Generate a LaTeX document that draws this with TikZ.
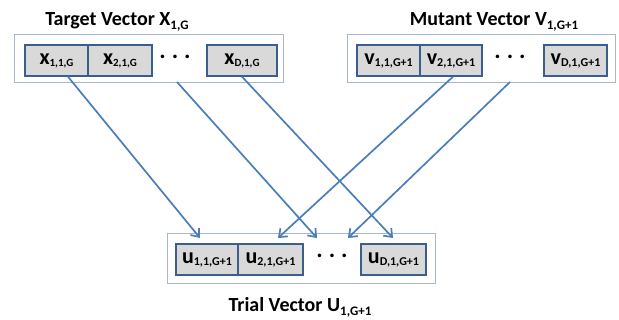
\documentclass[tikz,border=0pt]{standalone}
\usepackage{fontspec}
\setmainfont{Carlito}
\usetikzlibrary{arrows.meta}
\definecolor{arrowblue}{HTML}{4A7EBB}
\definecolor{cellborder}{HTML}{3B5E8C}
\definecolor{cellfill}{HTML}{D9D9D9}
\definecolor{frameline}{HTML}{A9B7CD}
\tikzset{
  cell/.style={draw=cellborder, line width=1.4pt, fill=cellfill, minimum height=31pt,
    inner sep=0pt, font=\bfseries\fontsize{22}{24}\selectfont},
  frame/.style={draw=frameline, line width=0.8pt},
  dots/.style={font=\bfseries\fontsize{24}{26}\selectfont, inner sep=0pt},
  title/.style={font=\bfseries\fontsize{20}{22}\selectfont, inner sep=0pt, anchor=base},
  link/.style={draw=arrowblue, line width=1.7pt, -{Straight Barb[length=7pt,width=11pt,line width=1.7pt]}}
}
% subscripts of the cell labels and of the titles
\newcommand{\csub}[2][12]{\raisebox{-2pt}{\fontsize{#1}{#1}\selectfont #2}}
\newcommand{\tsub}[1]{\raisebox{-3.5pt}{\fontsize{13}{13}\selectfont #1}}
\newcommand{\threedots}{.\hspace{6pt}.\hspace{6pt}.}
\begin{document}
\begin{tikzpicture}[x=1pt,y=-1pt]
  \useasboundingbox[fill=white] (0,0) rectangle (619,320);

  % target vector
  \node[title] (tx) at (117,26) {Target Vector X\tsub{1,G}};
  \draw[frame] (14,34) rectangle (283,82);
  \node[cell, minimum width=63pt] (x1) at (56.5,60.5) {x\csub[11]{1,1,G}};
  \node[cell, minimum width=64pt] (x2) at (120,60.5) {x\csub[11]{2,1,G}};
  \node[dots] (xd) at (175,57) {\threedots};
  \node[cell, minimum width=70pt] (xD) at (242,60.5) {x\csub[11]{D,1,G}};

  % mutant vector
  \node[title] (tv) at (494,26) {Mutant Vector V\tsub{1,G+1}};
  \draw[frame] (347,34) rectangle (615,82);
  \node[cell, minimum width=63pt] (v1) at (388.5,60.5) {v\csub{1,1,G+1}};
  \node[cell, minimum width=62pt] (v2) at (451,60.5) {v\csub{2,1,G+1}};
  \node[dots] (vd) at (510,57) {\threedots};
  \node[cell, minimum width=63pt] (vD) at (575.5,60.5) {v\csub{D,1,G+1}};

  % trial vector
  \node[title] (tu) at (300,312) {Trial Vector U\tsub{1,G+1}};
  \draw[frame] (167,233) rectangle (435,283);
  \node[cell, minimum width=62pt] (u1) at (207,259.5) {u\csub{1,1,G+1}};
  \node[cell, minimum width=65pt] (u2) at (270.5,259.5) {u\csub{2,1,G+1}};
  \node[dots] (ud) at (332,256) {\threedots};
  \node[cell, minimum width=65pt] (uD) at (393.5,259.5) {u\csub{D,1,G+1}};

  % connector ends
  \coordinate (sxd) at (177,82);
  \coordinate (svd) at (510,82);
  \coordinate (e1) at (200,238);
  \coordinate (e2) at (317,238);
  \coordinate (e3) at (393,238);
  \coordinate (e4) at (278,238);
  \coordinate (e5) at (348,238);

  \draw[link] ([xshift=11.5pt]x1.south) -- (e1);
  \draw[link] (sxd) -- (e2);
  \draw[link] (xD.south) -- (e3);
  \draw[link] ([xshift=2pt]v2.south) -- (e4);
  \draw[link] (svd) -- (e5);
\end{tikzpicture}
\end{document}
